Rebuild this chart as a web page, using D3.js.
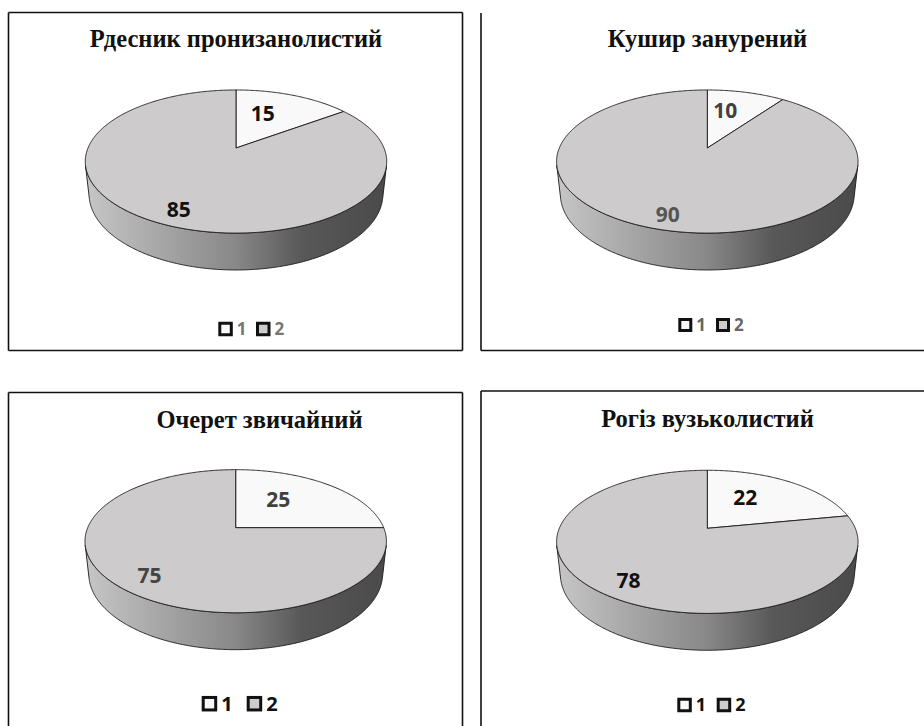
<!DOCTYPE html>
<html><head><meta charset="utf-8">
<script src="https://cdn.jsdelivr.net/npm/d3@7"></script>
<style>body{margin:0;background:#fff} svg{display:block}</style>
</head><body>
<svg id="c" width="924" height="726"></svg>
<script>
// ---- data ----
const titles = ["Рдесник пронизанолистий", "Кушир занурений", "Очерет звичайний", "Рогіз вузьколистий"];
const categories = ["1", "2"];
const series1 = [15, 10, 25, 22];
const series2 = [85, 90, 75, 78];

// ---- layout / style per panel ----
const layout = [
  {cx:236, cy:148, tx:236, ty:47, tfs:24.5, lx:218.3, lsp:37.7, lsq:14.5, ly:329, lfs:17, lcol:"#777",
   labCol:["#111","#111"], lines:[[8.5,12.5,462.5,12.5],[462.5,12.5,462.5,350.5],[8.5,350.5,462.5,350.5],[8.5,12.5,8.5,350.5]]},
  {cx:707.3, cy:148, tx:707.5, ty:47, tfs:24.5, lx:678.3, lsp:37.7, lsq:14, ly:325, lfs:17, lcol:"#666",
   labCol:["#404040","#555"], lines:[[481,13,481,350.5],[481,350.5,924,350.5]]},
  {cx:235.7, cy:527.7, tx:259.5, ty:428, tfs:24.5, lx:201.7, lsp:45, lsq:15.5, ly:703.7, lfs:20, lcol:"#111",
   labCol:["#404040","#444"], lines:[[8.5,392.5,462.5,392.5],[462.5,392.5,462.5,726],[8.5,392.5,8.5,726]]},
  {cx:707.3, cy:528.3, tx:707.5, ty:427, tfs:24.5, lx:677.3, lsp:39.4, lsq:14.5, ly:705, lfs:18, lcol:"#111",
   labCol:["#111","#111"], lines:[[481,391,924,391],[481,391,481,726]]}
];

// perspective camera for the 3D pie (radius units)
const sa = 0.4662, ca = Math.sqrt(1 - sa*sa);
const L = ca / 0.189, f = 148 * L, H = 0.252;
function project(U, V, Y) {
  const dw = L - Y*sa - V*ca;
  return [f*U/dw, f*(V*sa - Y*ca)/dw];
}
const vis0 = Math.acos(-1/(L*ca)), vis1 = 2*Math.PI - vis0;

const svg = d3.select("#c");
const defs = svg.append("defs");
const pie = d3.pie().sort(null).value(d => d);
const line = d3.line();
const faceFill = ["#f9f9f9", "#cdcbcc"];

layout.forEach((P, i) => {
  const g = svg.append("g");
  // borders
  P.lines.forEach(l => g.append("line").attr("x1", l[0]).attr("y1", l[1]).attr("x2", l[2]).attr("y2", l[3])
    .attr("stroke", "#111").attr("stroke-width", 1.6));
  // title
  g.append("text").attr("x", P.tx).attr("y", P.ty).attr("text-anchor", "middle")
    .attr("font-family", "'Liberation Serif','Times New Roman',serif").attr("font-weight", "bold")
    .attr("font-size", P.tfs).attr("fill", "#111").text(titles[i]);

  const pg = g.append("g").attr("transform", `translate(${P.cx},${P.cy})`);
  const grad = defs.append("linearGradient").attr("id", "side" + i).attr("gradientUnits", "userSpaceOnUse")
    .attr("x1", -150).attr("x2", 150).attr("y1", 0).attr("y2", 0);
  [[0, "#c6c6c6"], [0.25, "#a6a6a6"], [0.5, "#888"], [0.72, "#585858"], [1, "#4a4a4a"]].forEach(s =>
    grad.append("stop").attr("offset", s[0]).attr("stop-color", s[1]));
  const grad1 = defs.append("linearGradient").attr("id", "sideW" + i).attr("gradientUnits", "userSpaceOnUse")
    .attr("x1", -150).attr("x2", 150).attr("y1", 0).attr("y2", 0);
  [[0, "#f0f0f0"], [1, "#8a8a8a"]].forEach(s => grad1.append("stop").attr("offset", s[0]).attr("stop-color", s[1]));

  const arcs = pie([series1[i], series2[i]]);
  const rim = (a, Y) => project(Math.sin(a), -Math.cos(a), Y);
  const samples = (s, e) => { const n = Math.max(2, Math.ceil((e - s) / 0.01)); return d3.range(n + 1).map(j => s + (e - s) * j / n); };

  // side walls (front visible part)
  arcs.forEach((a, k) => {
    const s = Math.max(a.startAngle, vis0), e = Math.min(a.endAngle, vis1);
    if (e <= s) return;
    const ang = samples(s, e);
    const pts = ang.map(t => rim(t, 0)).concat(ang.slice().reverse().map(t => rim(t, -H)));
    pg.append("path").attr("d", line(pts) + "Z").attr("fill", `url(#${k ? "side" : "sideW"}${i})`)
      .attr("stroke", "#1a1a1a").attr("stroke-width", 0.9).attr("stroke-linejoin", "round");
  });
  // top faces
  arcs.forEach((a, k) => {
    const pts = [[0, 0]].concat(samples(a.startAngle, a.endAngle).map(t => rim(t, 0)));
    pg.append("path").attr("d", line(pts) + "Z").attr("fill", faceFill[k])
      .attr("stroke", "#1a1a1a").attr("stroke-width", 0.9).attr("stroke-linejoin", "round");
  });
  // data labels
  const lf = [[0.44, 0.63], [0.73, 0.86]];
  arcs.forEach((a, k) => {
    const m = (a.startAngle + a.endAngle) / 2;
    const p = project(lf[k][0] * Math.sin(m), -lf[k][1] * Math.cos(m), 0);
    pg.append("text").attr("x", p[0]).attr("y", p[1]).attr("dy", "0.36em").attr("text-anchor", "middle")
      .attr("font-family", "'Open Sans',sans-serif").attr("font-weight", "bold").attr("font-size", 21)
      .attr("fill", P.labCol[k]).text(a.data);
  });
  // legend
  categories.forEach((c, k) => {
    const x0 = P.lx + k * P.lsp, sq = P.lsq, sw = 3;
    g.append("rect").attr("x", x0 + sw/2).attr("y", P.ly - sq/2 + sw/2).attr("width", sq - sw).attr("height", sq - sw)
      .attr("fill", faceFill[k]).attr("stroke", "#111").attr("stroke-width", sw);
    g.append("text").attr("x", x0 + sq + 4).attr("y", P.ly).attr("dy", "0.36em")
      .attr("font-family", "'Open Sans',sans-serif").attr("font-weight", "bold").attr("font-size", P.lfs)
      .attr("fill", P.lcol).text(c);
  });
});
</script>
</body></html>
